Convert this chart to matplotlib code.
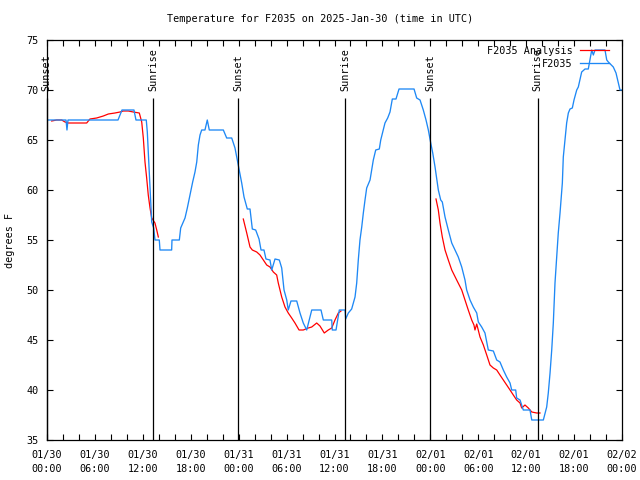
import numpy as np
import matplotlib
matplotlib.use("Agg")
import matplotlib.pyplot as plt
from matplotlib.ticker import MultipleLocator, FixedLocator

# hours since 2025-01-30 00:00 UTC
obs_hours = [0.0, 2.38, 2.5, 2.63, 8.89, 9.39, 10.89, 11.14, 12.43, 12.56, 12.86, 13.02, 13.11, 13.36,
             13.52, 14.06, 14.15, 15.61, 15.65, 16.57, 16.74, 17.07, 17.28, 17.57, 17.91, 18.24, 18.53,
             18.75, 18.95, 19.16, 19.37, 19.78, 20.07, 20.32, 22.08, 22.5, 23.13, 23.54, 23.95, 24.38,
             24.67, 25.08, 25.42, 25.71, 26.13, 26.55, 26.8, 27.17, 27.42, 27.92, 28.14, 28.55, 29.09,
             29.39, 29.68, 30.02, 30.21, 30.55, 31.27, 31.68, 32.09, 32.52, 33.15, 34.31, 34.6, 35.65,
             35.72, 36.19, 36.6, 37.32, 37.4, 37.73, 38.15, 38.57, 38.78, 38.98, 39.19, 39.41, 39.61,
             39.82, 40.03, 40.45, 40.66, 40.86, 41.16, 41.61, 41.79, 42.04, 42.32, 42.66, 42.95, 43.24,
             43.7, 44.08, 45.96, 46.29, 46.71, 47.12, 47.46, 47.75, 48.05, 48.3, 48.59, 49.0, 49.3,
             49.5, 49.84, 50.25, 50.68, 51.09, 51.5, 51.93, 52.34, 52.55, 52.97, 53.38, 53.81, 54.01,
             54.43, 54.84, 55.26, 55.89, 56.31, 56.72, 57.14, 57.56, 57.98, 58.19, 58.69, 58.81, 59.23,
             59.64, 60.48, 60.7, 62.15, 62.57, 62.77, 62.99, 63.2, 63.4, 63.61, 63.82, 64.02, 64.24,
             64.53, 64.65, 64.86, 65.07, 65.28, 65.49, 65.78, 65.99, 66.33, 66.53, 66.95, 67.37, 67.78,
             67.99, 68.21, 68.41, 68.62, 69.87, 70.09, 70.29, 70.91, 71.25, 71.54, 71.75, 72.0]
obs_temp = [67, 67, 66, 67, 67, 68, 68, 67, 67, 65.8, 60.8, 58.2, 56.8, 56.2,
            55, 55, 54, 54, 55, 55, 56.2, 56.8, 57.2, 58.2, 59.5, 60.8, 61.8,
            62.8, 64.5, 65.5, 66, 66, 67, 66, 66, 65.2, 65.2, 64.2, 62.5, 60.7,
            59.3, 58.1, 58.1, 56.1, 56, 55.1, 54, 54, 53.1, 53, 52, 53.1, 53,
            52.2, 50, 49, 48, 48.9, 48.9, 47.7, 46.7, 46, 48, 48, 47, 47,
            46, 46, 48, 48, 47.1, 47.7, 48.1, 49.3, 50.7, 53, 55, 56.3, 57.7,
            59, 60.2, 61, 62, 63, 64, 64.1, 65, 65.8, 66.7, 67.2, 67.8, 69.1,
            69.1, 70.1, 70.1, 69.2, 69, 68, 67, 66, 64.7, 63.7, 62.3, 60, 59,
            58.8, 57.3, 56, 54.7, 54, 53.3, 52.3, 51, 50, 49, 48.3, 47.7, 46.8,
            46.3, 45.7, 44, 43.9, 43, 42.8, 42, 41.3, 40.7, 40, 40, 39.2, 39,
            38, 38, 37, 37, 38.3, 39.7, 41.7, 44, 46.7, 50.7, 53.3, 55.7, 57.7,
            60.7, 63.3, 65, 66.7, 67.7, 68.1, 68.2, 69, 70, 70.3, 71.8, 72.1, 72.1,
            73, 74, 73.5, 74, 74, 73, 72.8, 72.3, 71.7, 70.7, 70, 70]

# analysis (night-time only; NaN separates the nights)
ana_hours = [0.59, 1.21, 1.84, 2.25, 2.67, 4.97, 5.38, 6.22, 7.05, 7.68, 8.51, 9.14, 9.55, 10.18,
             10.81, 11.56, 11.86, 12.06, 12.27, 12.48, 12.68, 12.9, 13.11, 13.52, 13.74, 13.94,
             np.nan,
             24.58, 25.01, 25.42, 25.71, 26.26, 26.67, 27.09, 27.51, 27.92, 28.34, 28.76, 28.96,
             29.39, 29.8, 30.21, 30.64, 31.05, 31.56, 32.09, 32.72, 33.15, 33.77, 34.18, 34.72,
             35.22, 35.65, 36.06, 36.48, 36.81,
             np.nan,
             48.71, 49.0, 49.21, 49.5, 49.84, 50.25, 50.68, 51.3, 51.93, 52.34, 52.75, 53.18,
             53.46, 53.59, 53.81, 54.22, 54.64, 55.06, 55.47, 55.89, 56.31, 56.72, 57.14, 57.56,
             57.98, 58.39, 58.81, 59.23, 59.44, 59.85, 60.27, 60.7, 61.32, 61.73]
ana_temp = [66.9, 67, 67, 66.8, 66.7, 66.7, 67.1, 67.2, 67.4, 67.6, 67.7, 67.8, 67.9, 67.9,
            67.8, 67.7, 66.8, 65.2, 62.8, 61.2, 59.5, 58.2, 57.2, 56.7, 56, 55.3,
            np.nan,
            57.1, 55.7, 54.3, 54, 53.8, 53.5, 53, 52.5, 52.3, 51.8, 51.5, 50.7,
            49.3, 48.3, 47.7, 47.2, 46.7, 46, 46, 46.2, 46.3, 46.7, 46.4, 45.7,
            46, 46.2, 47, 47.7, 47.9,
            np.nan,
            59.1, 58, 56.7, 55.3, 54, 53, 52, 51, 50, 49, 48, 47,
            46.5, 46, 46.6, 45.3, 44.5, 43.5, 42.5, 42.2, 42, 41.5, 41, 40.5,
            40, 39.5, 39, 38.7, 38.2, 38.5, 38.2, 37.8, 37.7, 37.7]

sun_hours = [-0.05, 13.27, 23.92, 37.32, 47.96, 61.45]
sun_labels = ['Sunset', 'Sunrise', 'Sunset', 'Sunrise', 'Sunset', 'Sunrise']

tick_labels = ['01/30\n00:00', '01/30\n06:00', '01/30\n12:00', '01/30\n18:00',
               '01/31\n00:00', '01/31\n06:00', '01/31\n12:00', '01/31\n18:00',
               '02/01\n00:00', '02/01\n06:00', '02/01\n12:00', '02/01\n18:00',
               '02/02\n00:00']

font = 'DejaVu Sans Mono'
fs = 7.3
plt.rcParams['font.family'] = font

fig = plt.figure(figsize=(6.4, 4.8), dpi=100)
ax = fig.add_axes([47/640, 40/480, 575/640, 400/480])

ax.plot(ana_hours, ana_temp, color='red', lw=0.9, label='F2035 Analysis')
ax.plot(obs_hours, obs_temp, color='#1E88F5', lw=0.95, label='F2035')

ax.vlines(sun_hours, 35, 69.2, color='black', lw=0.9, clip_on=False)
for t, lab in zip(sun_hours, sun_labels):
    ax.text(t, 69.9, lab, rotation=90, ha='center', va='bottom', fontsize=fs, clip_on=False)

ax.set_xlim(0, 72)
ax.set_ylim(35, 75)
ax.xaxis.set_major_locator(FixedLocator(np.arange(0, 73, 6)))
ax.set_xticklabels(tick_labels, fontsize=fs, linespacing=1.5)
ax.xaxis.set_minor_locator(MultipleLocator(2))
ax.yaxis.set_major_locator(MultipleLocator(5))
ax.tick_params(axis='both', which='both', direction='in', top=True, right=True,
               length=4, width=0.8, labelsize=fs)
ax.tick_params(axis='x', pad=7.5)
ax.tick_params(axis='y', pad=6)
for s in ax.spines.values():
    s.set_linewidth(0.9)

fig.text(0.5, 1 - 19/480, 'Temperature for F2035 on 2025-Jan-30 (time in UTC)',
         ha='center', va='center', fontsize=fs)
fig.text(10/640, 240/480, 'degrees F', rotation=90, ha='center', va='center', fontsize=fs)

ax.legend(loc='upper right', frameon=False, markerfirst=False, fontsize=fs,
          handlelength=2.9, handletextpad=0.65, labelspacing=0.3,
          borderaxespad=0.2, borderpad=0.2, bbox_to_anchor=(1 - 9/575, 1 - 1.5/400))

fig.savefig('out.png', dpi=100)
